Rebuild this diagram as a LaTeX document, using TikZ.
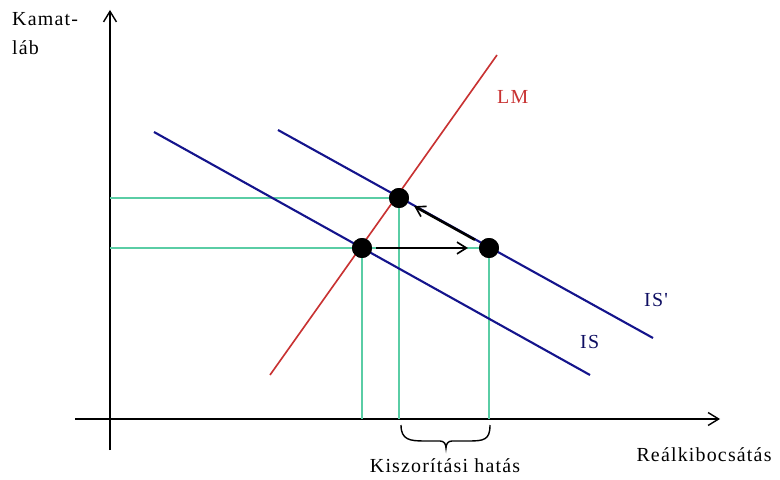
\documentclass[tikz,border=0pt]{standalone}
\usepackage{fontspec}
\setmainfont{Liberation Serif}
\newfontfamily\labfont[LetterSpace=6]{Liberation Serif}
\usetikzlibrary{arrows.meta}
\definecolor{isblue}{RGB}{20,20,140}
\definecolor{lmred}{RGB}{200,50,50}
\definecolor{guide}{RGB}{90,205,165}
\tikzset{
  axis/.style={line width=1.5pt,-{Straight Barb[length=9pt,width=11pt,line width=1.2pt]}},
  curveis/.style={isblue,line width=1.8pt},
  curvelm/.style={lmred,line width=1.4pt},
  guideline/.style={guide,line width=1.4pt},
  dot/.style={circle,fill=black,inner sep=0pt,minimum size=17pt},
  move/.style={line width=2.2pt,-{Straight Barb[length=8pt,width=10pt,line width=1.4pt]}},
  lab/.style={font=\labfont\fontsize{17}{25}\selectfont,inner sep=0pt},
}
\begin{document}
\begin{tikzpicture}[x=0.03cm,y=-0.03cm]
\useasboundingbox (0,0) rectangle (780,480);
% axes
\coordinate (ybot) at (110,450);
\coordinate (ytop) at (110,10);
\coordinate (xl) at (75,419);
\coordinate (xr) at (720,419);
\draw[axis] (ybot) -- (ytop);
\draw[axis] (xl) -- (xr);
% points
\node[dot] (A) at (362,248) {};
\node[dot] (B) at (399,198) {};
\node[dot] (C) at (489,248) {};
% guide lines
\coordinate (yB) at (110,198);
\coordinate (yA) at (110,248);
\coordinate (xA) at (362,419);
\coordinate (xB) at (399,419);
\coordinate (xC) at (489,419);
\draw[guideline] (yB) -- (B.center);
\draw[guideline] (yA) -- (C.center);
\draw[guideline] (A.center) -- (xA);
\draw[guideline] (B.center) -- (xB);
\draw[guideline] (C.center) -- (xC);
% curves
\coordinate (is1) at (154,132);
\coordinate (is2) at (590,375);
\coordinate (isp1) at (278,130);
\coordinate (isp2) at (653,338);
\coordinate (lm1) at (270,375);
\coordinate (lm2) at (497,55);
\draw[curveis] (is1) -- (is2);
\draw[curveis] (isp1) -- (isp2);
\draw[curvelm] (lm1) -- (lm2);
% redraw dots on top
\fill (A) circle (8.5pt);
\fill (B) circle (8.5pt);
\fill (C) circle (8.5pt);
% movement arrows
\draw[move] ([xshift=12pt]A.center) -- ([xshift=-18pt]C.center);
\draw[move] ([xshift=-12pt,yshift=7pt]C.center) -- ([xshift=13pt,yshift=-7pt]B.center);
% brace
\coordinate (br1) at (401,425);
\coordinate (br2) at (490,425);
\draw[line width=1.2pt] (br1) .. controls (401,440) and (410,441) .. (425,441)
  -- (440,441) .. controls (444,441) and (446,444) .. (446,448)
  .. controls (446,444) and (448,441) .. (452,441)
  -- (468,441) .. controls (484,441) and (490,440) .. (br2);
% labels
\node[lab,lmred,anchor=west] (lmlab) at (497,97) {LM};
\node[lab,isblue!70!black,anchor=west] (isplab) at (644,300) {IS\char"27};
\node[lab,isblue!70!black,anchor=west] (islab) at (580,342) {IS};
\node[lab,align=left,anchor=north west] (ylab) at (12,12) {Kamat-\\láb};
\node[lab] (xlab) at (704,455) {Reálkibocsátás};
\node[lab] (crowd) at (445,466) {Kiszorítási hatás};
\end{tikzpicture}
\end{document}
